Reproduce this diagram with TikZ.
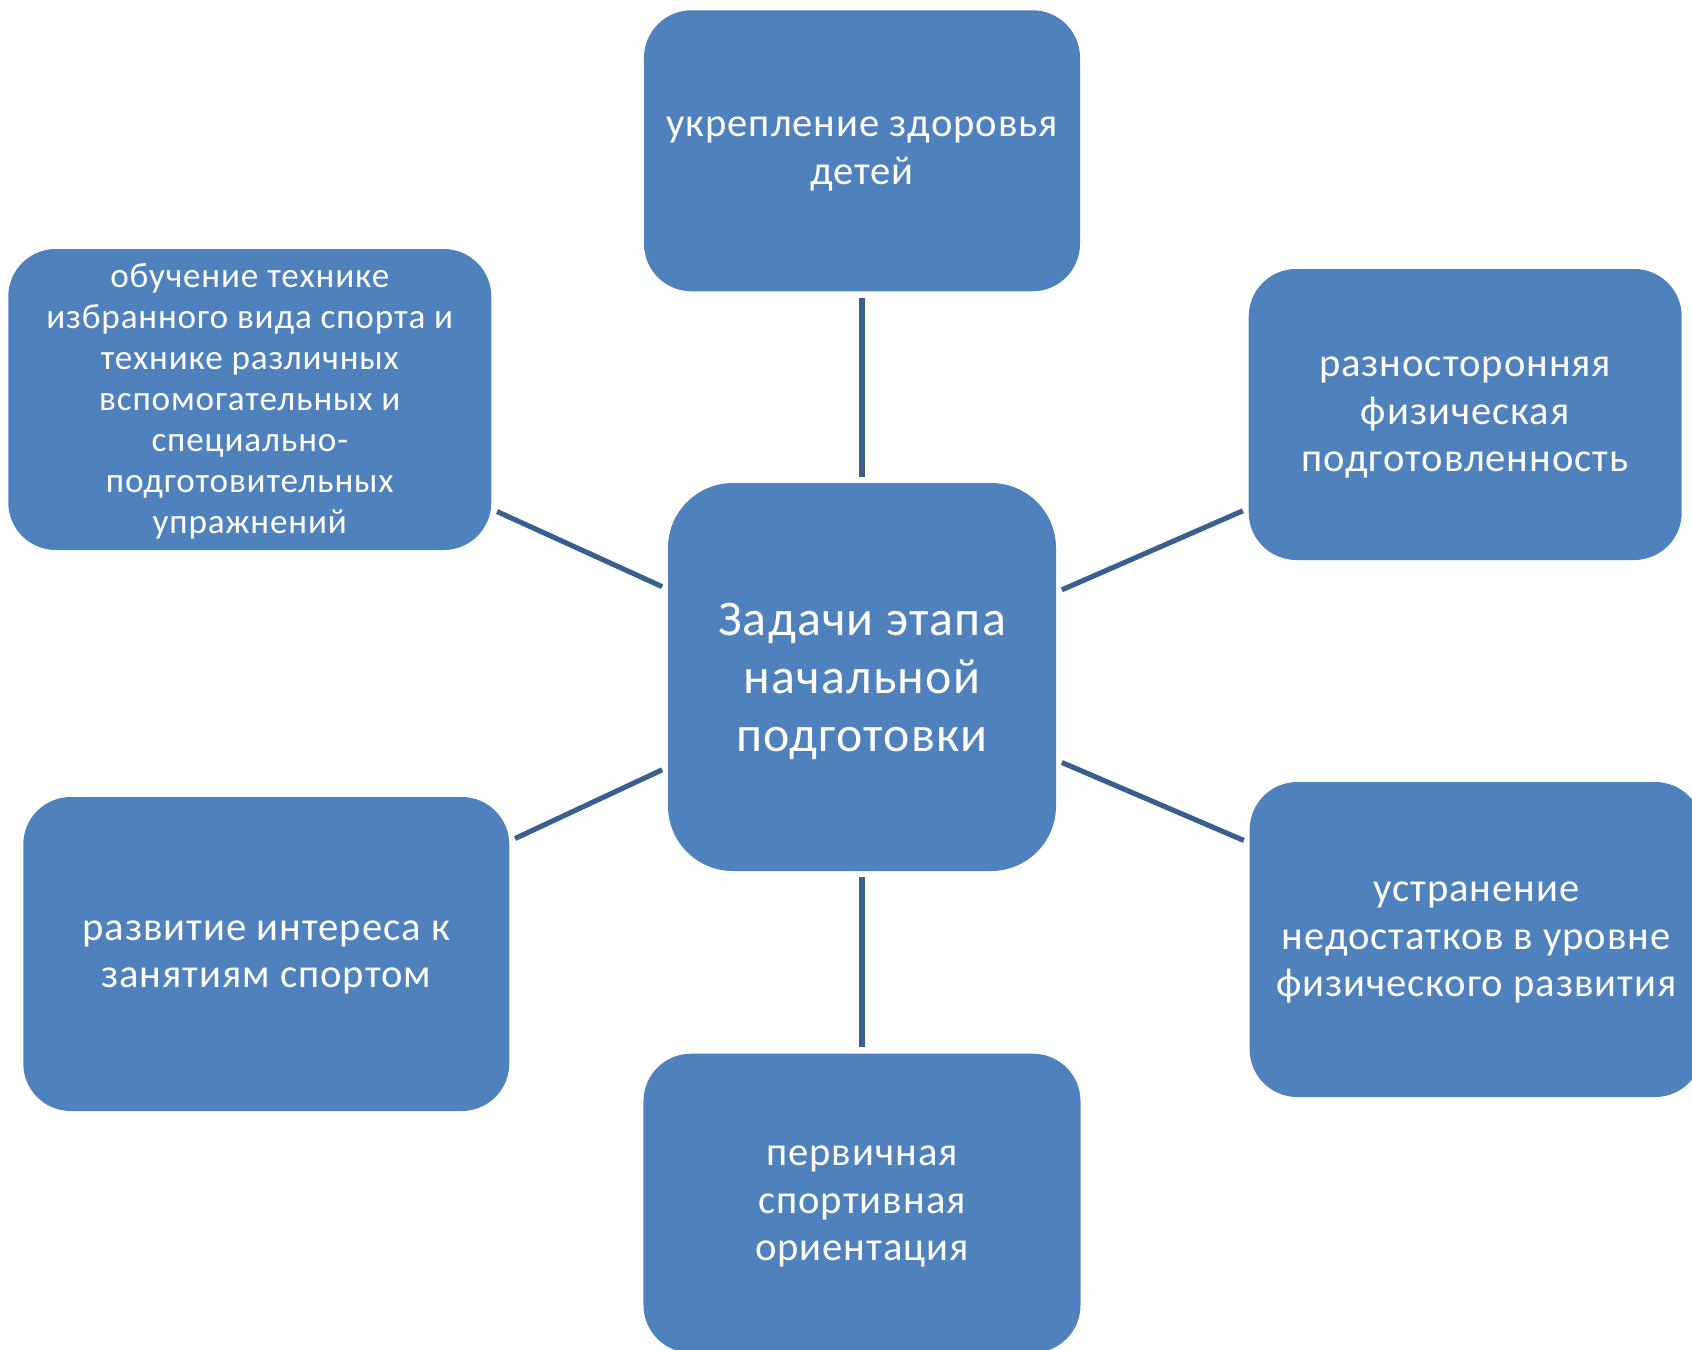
\documentclass[tikz,border=0pt]{standalone}
\usepackage{fontspec}
\setmainfont{Carlito}[LetterSpace=2.4]
\usetikzlibrary{positioning}
\definecolor{BoxBlue}{HTML}{4F81BD}
\definecolor{LinkBlue}{HTML}{3A5F8F}
\tikzset{
  taskbox/.style={rounded corners=0.95cm, fill=BoxBlue, text=white, align=center, inner sep=0pt, text depth=-0.2cm, font=\fontsize{23.1}{27}\selectfont},
  hubbox/.style={taskbox, rounded corners=1.3cm, minimum width=7.76cm, minimum height=7.76cm, text depth=-0.06cm, font=\fontsize{28.4}{33}\selectfont},
  link/.style={draw=LinkBlue, line width=2.9pt, shorten <=0.12cm, shorten >=0.12cm}
}
\begin{document}
\begin{tikzpicture}
    \useasboundingbox (-17.24,-13.44) rectangle (16.6,13.54);
    \node[hubbox] (hub) at (0,0) {Задачи этапа\\начальной\\подготовки};
    \node[taskbox, minimum width=8.72cm, minimum height=5.62cm, above=3.82cm of hub] (health) {укрепление здоровья\\детей};
    \node[taskbox, minimum width=8.74cm, minimum height=5.98cm, below=3.64cm of hub] (orient) {первичная\\спортивная\\ориентация};
    \node[taskbox, minimum width=9.66cm, minimum height=6.02cm, left=3.52cm of hub, yshift=5.55cm, text depth=0.05cm, font=\fontsize{20}{23.3}\selectfont] (technique) {обучение технике\\избранного вида спорта и\\технике различных\\вспомогательных и\\специально-\\подготовительных\\упражнений};
    \node[taskbox, minimum width=8.66cm, minimum height=5.82cm, right=3.84cm of hub, yshift=5.25cm] (physical) {разносторонняя\\физическая\\подготовленность};
    \node[taskbox, minimum width=9.72cm, minimum height=6.28cm, left=3.16cm of hub, yshift=-5.54cm] (interest) {развитие интереса к\\занятиям спортом};
    \node[taskbox, minimum width=9.06cm, minimum height=6.3cm, right=3.86cm of hub, yshift=-5.25cm] (defects) {устранение\\недостатков в уровне\\физического развития};

    \draw[link] (hub) -- (health);
    \draw[link] (hub) -- (orient);
    \draw[link] (hub) -- (technique);
    \draw[link] (hub) -- (physical);
    \draw[link] (hub) -- (interest);
    \draw[link] (hub) -- (defects);
  \end{tikzpicture}
\end{document}
